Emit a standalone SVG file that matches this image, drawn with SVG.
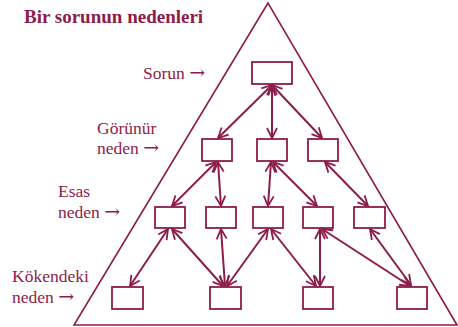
<svg xmlns="http://www.w3.org/2000/svg" width="458" height="327" viewBox="0 0 458 327">
<style>
.t{font-family:"Liberation Serif","Times New Roman","DejaVu Serif",serif;fill:#8C1D4A;font-size:17.5px}
.title{font-weight:bold;font-size:19px}
.ar{font-family:"DejaVu Serif","Liberation Serif",serif;font-size:19px}
.box{fill:#fff;stroke:#8C1D4A;stroke-width:1.8}
.c{stroke:#8C1D4A;stroke-width:2;fill:none;marker-start:url(#ah);marker-end:url(#ah)}
.frame{fill:none;stroke:#8C1D4A;stroke-width:1.6}
</style>
<defs>
<marker id="ah" viewBox="0 0 12 12" refX="11" refY="6" markerWidth="12" markerHeight="12" markerUnits="userSpaceOnUse" orient="auto-start-reverse">
<path d="M1,1 L11,6 L1,11" fill="none" stroke="#8C1D4A" stroke-width="1.8"/>
</marker>
</defs>
<rect width="458" height="327" fill="#fff"/>
<polygon class="frame" points="268,3 74,325 457,325"/>
<text class="t title" x="24" y="23">Bir sorunun nedenleri</text>
<text class="t" x="143" y="79">Sorun <tspan class="ar">→</tspan></text>
<text class="t" x="97" y="134">Görünür</text>
<text class="t" x="97" y="154">neden <tspan class="ar">→</tspan></text>
<text class="t" x="58" y="197">Esas</text>
<text class="t" x="58" y="218">neden <tspan class="ar">→</tspan></text>
<text class="t" x="12" y="282">Kökendeki</text>
<text class="t" x="12" y="303">neden <tspan class="ar">→</tspan></text>
<g id="connectors">
<line class="c" x1="272" y1="85" x2="218" y2="138"/>
<line class="c" x1="272" y1="85" x2="272" y2="138"/>
<line class="c" x1="272" y1="85" x2="322" y2="138"/>
<line class="c" x1="216" y1="162" x2="172" y2="206"/>
<line class="c" x1="218" y1="162" x2="221" y2="206"/>
<line class="c" x1="271" y1="162" x2="268" y2="206"/>
<line class="c" x1="273" y1="162" x2="317" y2="206"/>
<line class="c" x1="325" y1="162" x2="368" y2="206"/>
<line class="c" x1="168" y1="229" x2="130" y2="286"/>
<line class="c" x1="172" y1="229" x2="223" y2="286"/>
<line class="c" x1="221" y1="229" x2="225" y2="286"/>
<line class="c" x1="268" y1="229" x2="227" y2="286"/>
<line class="c" x1="271" y1="229" x2="316" y2="286"/>
<line class="c" x1="320" y1="229" x2="320" y2="286"/>
<line class="c" x1="322" y1="229" x2="410" y2="286"/>
<line class="c" x1="370" y1="229" x2="411" y2="285"/>
</g>
<g id="sorun"><rect class="box" x="252" y="62" width="40" height="22"/></g>
<g id="g1"><rect class="box" x="202" y="139" width="30" height="22"/></g>
<g id="g2"><rect class="box" x="257" y="139" width="30" height="22"/></g>
<g id="g3"><rect class="box" x="308" y="139" width="30" height="22"/></g>
<g id="e1"><rect class="box" x="155" y="207" width="30" height="21"/></g>
<g id="e2"><rect class="box" x="206" y="207" width="30" height="21"/></g>
<g id="e3"><rect class="box" x="253" y="207" width="30" height="21"/></g>
<g id="e4"><rect class="box" x="303" y="207" width="30" height="21"/></g>
<g id="e5"><rect class="box" x="354" y="207" width="31" height="21"/></g>
<g id="k1"><rect class="box" x="112" y="287" width="31" height="22"/></g>
<g id="k2"><rect class="box" x="210" y="287" width="31" height="22"/></g>
<g id="k3"><rect class="box" x="303" y="287" width="30" height="22"/></g>
<g id="k4"><rect class="box" x="397" y="287" width="30" height="22"/></g>
</svg>
